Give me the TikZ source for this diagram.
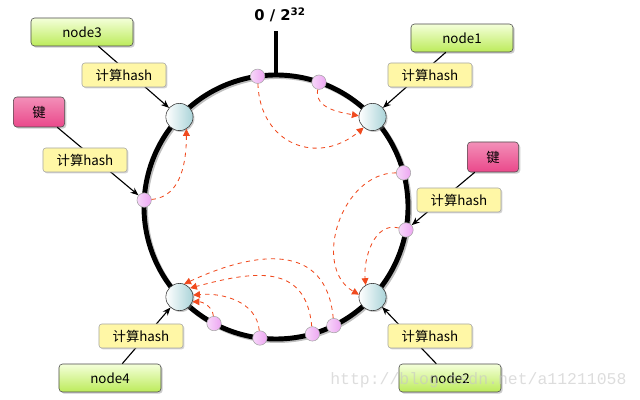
\documentclass[tikz,border=0pt]{standalone}
\usepackage{fontspec}
\setmainfont{DejaVu Sans}
\newfontfamily\cjk{Noto Sans CJK SC}
\newfontfamily\wmfont{Liberation Mono}
\usetikzlibrary{arrows.meta,positioning,calc,shadows}
\definecolor{nodetop}{HTML}{F4FFDA}
\definecolor{nodebot}{HTML}{BCEB5A}
\definecolor{keypink}{HTML}{E8347E}
\definecolor{hashyel}{HTML}{FFF7A6}
\definecolor{srvteal}{HTML}{A9D3D8}
\definecolor{dotpink}{HTML}{EDA6F2}
\definecolor{hashred}{HTML}{F04A1E}

\begin{document}
\begin{tikzpicture}[
  x=0.025cm, y=0.025cm,
  srvbox/.style={rectangle, draw=black!70, rounded corners=2.5pt, top color=nodetop,
                 bottom color=nodebot, minimum width=2.55cm, minimum height=0.7cm,
                 font=\cjk\fontsize{9.5}{10}\selectfont,
                 drop shadow={shadow xshift=1.2pt, shadow yshift=-1.2pt, opacity=0.4}},
  keybox/.style={rectangle, draw=black!70, rounded corners=2.5pt, top color=keypink!55,
                 middle color=keypink!8, bottom color=keypink!90, minimum width=1.28cm,
                 minimum height=0.75cm, font=\cjk\fontsize{9.5}{10}\selectfont,
                 drop shadow={shadow xshift=1.2pt, shadow yshift=-1.2pt, opacity=0.4}},
  hashbox/.style={rectangle, draw=black!35, rounded corners=2pt, fill=hashyel,
                  minimum width=2.1cm, minimum height=0.6cm,
                  font=\cjk\fontsize{9.5}{10}\selectfont,
                  drop shadow={shadow xshift=1pt, shadow yshift=-1pt, opacity=0.35}},
  srv/.style={circle, draw=black!80, left color=white, right color=srvteal,
              minimum size=0.68cm, inner sep=0pt,
              drop shadow={shadow xshift=1pt, shadow yshift=-1pt, opacity=0.4}},
  keydot/.style={circle, draw=black!35, left color=white!55!dotpink, right color=dotpink,
                 minimum size=0.36cm, inner sep=0pt},
  arr/.style={-{Stealth[length=2mm, width=1.6mm]}, thick},
  hasharr/.style={-{Triangle[length=1.7mm, width=1.7mm]}, hashred, dashed, semithick}
]
  \useasboundingbox (0,0) rectangle (640,400);

  % ring
  \coordinate (c) at (276,193);
  \draw[line width=3.5pt, black!25] ($(c)+(1.5,-1.5)$) circle[radius=132];
  \draw[line width=3.5pt] (c) circle[radius=132];
  \coordinate (zero) at ($(c)+(90:132)$);
  \coordinate (tick) at (276,369);
  \draw[line width=2.8pt] (zero) -- (tick);
  \node[font=\bfseries\fontsize{10.5}{12}\selectfont] (lbl) at (280,385) {0 / 2\textsuperscript{32}};

  % servers on the ring
  \node[srv] (s1) at ($(c)+(43:132)$) {};
  \node[srv] (s2) at ($(c)+(-43:132)$) {};
  \node[srv] (s3) at ($(c)+(137:132)$) {};
  \node[srv] (s4) at ($(c)+(223:132)$) {};

  % keys on the ring
  \foreach \a/\n in {98/k1, 71/k2, 15/k3, -10/k4, 177/k5, 242/k6, 263/k7, 286/k8, 296/k9}
    \node[keydot] (\n) at ($(c)+(\a:132)$) {};

  % boxes
  \node[srvbox] (node3) at (82,368) {node3};
  \node[srvbox] (node1) at (462,362) {node1};
  \node[srvbox] (node4) at (110,22) {node4};
  \node[srvbox] (node2) at (450,22) {node2};
  \node[keybox] (keyL) at (39,288) {键};
  \node[keybox] (keyR) at (493,243) {键};

  % hashing onto the ring
  \draw[arr] (node3) -- (s3);
  \draw[arr] (node1) -- (s1);
  \draw[arr] (node4) -- (s4);
  \draw[arr] (node2) -- (s2);
  \draw[arr] (keyL) -- (k5);
  \draw[arr] (keyR) -- (k4);

  \node[hashbox] (h3) at (124,325) {计算hash};
  \node[hashbox] (h1) at (430,325) {计算hash};
  \node[hashbox] (hL) at (85,240) {计算hash};
  \node[hashbox] (hR) at (459,200) {计算hash};
  \node[hashbox] (h4) at (141,64) {计算hash};
  \node[hashbox] (h2) at (430,64) {计算hash};

  % keys go clockwise to the next server
  \draw[hasharr] (k5) to[out=5, in=-90] (s3.-60);
  \draw[hasharr] (k1) to[out=-88, in=-140, looseness=1.35] (s1.-130);
  \draw[hasharr] (k2) to[out=-100, in=170] (s1.175);
  \draw[hasharr] (k3) to[out=180, in=150, looseness=1.1] (s2.170);
  \draw[hasharr] (k4) to[out=165, in=95] (s2.120);
  \draw[hasharr] (k9) to[out=95, in=25, looseness=1.3] (s4.70);
  \draw[hasharr] (k8) to[out=95, in=15, looseness=1.3] (s4.40);
  \draw[hasharr] (k7) to[out=95, in=5] (s4.8);
  \draw[hasharr] (k6) to[out=95, in=0] (s4.-20);

  \node[font=\wmfont\fontsize{11.7}{12}\selectfont, text=gray!45, opacity=0.6,
        anchor=west, inner sep=0pt] (wm) at (330,20) {http://blog.csdn.net/a11211058};
\end{tikzpicture}
\end{document}
